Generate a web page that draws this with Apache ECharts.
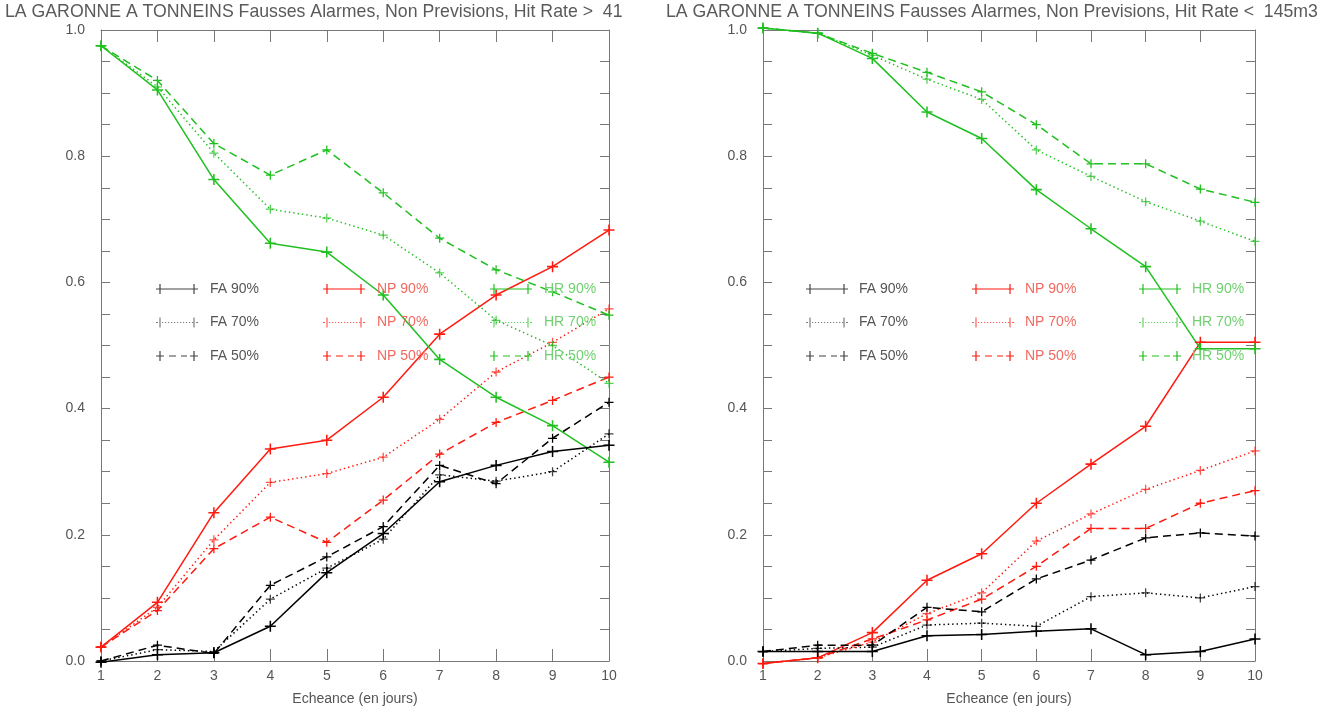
<!DOCTYPE html>
<html>
<head>
<meta charset="utf-8">
<script src="https://cdn.jsdelivr.net/npm/echarts@6/dist/echarts.min.js"></script>
<style>html,body{margin:0;padding:0;background:#fff}#c{width:1327px;height:711px}</style>
</head>
<body>
<div id="c"></div>
<script>
// ---------- data ----------
const days = [1, 2, 3, 4, 5, 6, 7, 8, 9, 10];
const yTicks = [0.0, 0.2, 0.4, 0.6, 0.8, 1.0];
const titleLeft = "LA GARONNE A TONNEINS Fausses Alarmes, Non Previsions, Hit Rate >  41";
const titleRight = "LA GARONNE A TONNEINS Fausses Alarmes, Non Previsions, Hit Rate <  145m3";
const xName = "Echeance (en jours)";
const seriesNames = ["FA 90%", "FA 70%", "FA 50%", "NP 90%", "NP 70%", "NP 50%", "HR 90%", "HR 70%", "HR 50%"];

// left panel (Hit Rate > 41)
const L_FA90 = [-0.002, 0.010, 0.013, 0.055, 0.140, 0.202, 0.284, 0.310, 0.332, 0.342];
const L_FA70 = [0.000, 0.018, 0.015, 0.098, 0.147, 0.193, 0.295, 0.285, 0.300, 0.360];
const L_FA50 = [0.000, 0.025, 0.012, 0.120, 0.165, 0.213, 0.310, 0.281, 0.353, 0.410];
const L_NP90 = [0.022, 0.093, 0.235, 0.336, 0.350, 0.418, 0.518, 0.580, 0.625, 0.683];
const L_NP70 = [0.022, 0.085, 0.192, 0.283, 0.297, 0.323, 0.383, 0.458, 0.505, 0.558];
const L_NP50 = [0.022, 0.080, 0.178, 0.228, 0.188, 0.255, 0.328, 0.378, 0.413, 0.450];
const L_HR90 = [0.975, 0.905, 0.763, 0.662, 0.648, 0.580, 0.478, 0.418, 0.373, 0.315];
const L_HR70 = [0.975, 0.910, 0.805, 0.716, 0.702, 0.675, 0.615, 0.540, 0.500, 0.440];
const L_HR50 = [0.975, 0.920, 0.820, 0.770, 0.810, 0.742, 0.670, 0.620, 0.585, 0.548];

// right panel (Hit Rate < 145m3)
const R_FA90 = [0.015, 0.015, 0.015, 0.040, 0.042, 0.047, 0.051, 0.010, 0.015, 0.035];
const R_FA70 = [0.015, 0.020, 0.022, 0.057, 0.060, 0.055, 0.102, 0.108, 0.100, 0.118];
const R_FA50 = [0.015, 0.025, 0.025, 0.085, 0.078, 0.130, 0.160, 0.195, 0.203, 0.198];
const R_NP90 = [-0.004, 0.005, 0.045, 0.128, 0.170, 0.250, 0.312, 0.372, 0.505, 0.505];
const R_NP70 = [-0.004, 0.005, 0.030, 0.075, 0.108, 0.190, 0.233, 0.272, 0.302, 0.333];
const R_NP50 = [-0.004, 0.005, 0.035, 0.065, 0.098, 0.150, 0.210, 0.210, 0.250, 0.270];
const R_HR90 = [1.003, 0.995, 0.955, 0.870, 0.828, 0.747, 0.685, 0.625, 0.495, 0.495];
const R_HR70 = [1.003, 0.995, 0.960, 0.922, 0.890, 0.810, 0.768, 0.728, 0.697, 0.665];
const R_HR50 = [1.003, 0.995, 0.963, 0.933, 0.902, 0.850, 0.788, 0.788, 0.748, 0.727];

// ---------- style ----------
const FONT = "Liberation Sans";
const colors = {FA: "#000000", NP: "#ff1a0f", HR: "#1fc01f"};
const legendText = {FA: "#555555", NP: "#f26a60", HR: "#6fd26f"};
const dashes = {"90": "solid", "70": [1.4, 3], "50": [8, 5]};
const PLUS = "path://M4.3,0H5.7V4.3H10V5.7H5.7V10H4.3V5.7H0V4.3H4.3Z";

function legendIcon(kind) {
  // 42 x 10 box: plus at both ends, line in between
  let p = "M0,0H0.01V0.01H0Z M3.4,0H4.6V10H3.4Z M37.4,0H38.6V10H37.4Z M41.99,9.99H42V10H41.99Z ";
  if (kind === "90") {
    p += "M0,4.4H42V5.6H0Z";
  } else if (kind === "70") {
    p += "M0,4.4H2V5.6H0Z M40,4.4H42V5.6H40Z ";
    for (let x = 6; x < 37; x += 3) p += "M" + x + ",4.4H" + (x + 1.2) + "V5.6H" + x + "Z ";
  } else {
    p += "M0,4.4H8V5.6H0Z M34,4.4H42V5.6H34Z M13,4.4H20V5.6H13Z M25,4.4H31V5.6H25Z";
  }
  return "path://" + p;
}

const grids = [
  {left: 101, right: 1327 - 609, top: 30, bottom: 711 - 672},
  {left: 763, right: 1327 - 1255, top: 30, bottom: 711 - 672}
];

const axisLineStyle = {color: "#777", width: 1};
const labelStyle = {color: "#555", fontFamily: FONT, fontSize: 14};

const xAxes = [], yAxes = [];
grids.forEach((g, i) => {
  xAxes.push({
    type: "value", gridIndex: i, position: "bottom", min: 1, max: 10, interval: 1,
    name: xName, nameLocation: "middle", nameGap: 31,
    nameTextStyle: {color: "#555", fontFamily: FONT, fontSize: 14},
    axisLine: {show: true, onZero: false, lineStyle: axisLineStyle},
    axisTick: {show: true, inside: true, length: 12, lineStyle: axisLineStyle},
    axisLabel: Object.assign({margin: 8, formatter: v => String(v)}, labelStyle),
    splitLine: {show: false}
  });
  xAxes.push({
    type: "value", gridIndex: i, position: "top", min: 1, max: 10, interval: 1,
    axisLine: {show: true, onZero: false, lineStyle: axisLineStyle},
    axisTick: {show: true, inside: true, length: 12, lineStyle: axisLineStyle},
    axisLabel: {show: false}, splitLine: {show: false}
  });
  yAxes.push({
    type: "value", gridIndex: i, position: "left", min: yTicks[0], max: yTicks[yTicks.length - 1], interval: 0.2,
    axisLine: {show: true, onZero: false, lineStyle: axisLineStyle},
    axisTick: {show: true, inside: true, length: 9, lineStyle: axisLineStyle},
    minorTick: {show: true, splitNumber: 4, length: 9, lineStyle: axisLineStyle},
    axisLabel: Object.assign({margin: 16, formatter: v => v.toFixed(1)}, labelStyle),
    splitLine: {show: false}
  });
  yAxes.push({
    type: "value", gridIndex: i, position: "right", min: yTicks[0], max: yTicks[yTicks.length - 1], interval: 0.2,
    axisLine: {show: true, onZero: false, lineStyle: axisLineStyle},
    axisTick: {show: true, inside: true, length: 9, lineStyle: axisLineStyle},
    minorTick: {show: true, splitNumber: 4, length: 9, lineStyle: axisLineStyle},
    axisLabel: {show: false}, splitLine: {show: false}
  });
});

const panelData = [
  {"FA 90%": L_FA90, "FA 70%": L_FA70, "FA 50%": L_FA50, "NP 90%": L_NP90, "NP 70%": L_NP70, "NP 50%": L_NP50, "HR 90%": L_HR90, "HR 70%": L_HR70, "HR 50%": L_HR50},
  {"FA 90%": R_FA90, "FA 70%": R_FA70, "FA 50%": R_FA50, "NP 90%": R_NP90, "NP 70%": R_NP70, "NP 50%": R_NP50, "HR 90%": R_HR90, "HR 70%": R_HR70, "HR 50%": R_HR50}
];

const series = [];
panelData.forEach((pd, i) => {
  seriesNames.forEach(name => {
    const kind = name.slice(0, 2), pct = name.slice(3, 5);
    const col = colors[kind];
    series.push({
      type: "line", name: name, xAxisIndex: i * 2, yAxisIndex: i * 2,
      data: days.map((d, k) => [d, pd[name][k]]),
      symbol: PLUS, symbolSize: pct === "90" ? 11 : 9, showAllSymbol: true,
      itemStyle: {color: col, opacity: pct === "70" ? 0.75 : 1},
      lineStyle: {color: col, width: 1.5, type: dashes[pct]},
      clip: false, silent: true, z: kind === "FA" ? 3 : 2
    });
  });
});

const legendPos = [
  {FA: [156, 210], NP: [323, 377], HR: [490, 544]},
  {FA: [806, 859], NP: [972, 1025], HR: [1139, 1192]}
];
const legends = [];
legendPos.forEach(lp => {
  ["FA", "NP", "HR"].forEach(kind => {
    const [ix, tx] = lp[kind];
    legends.push({
      orient: "vertical", left: ix, top: 282, padding: 0,
      itemWidth: 42, itemHeight: 10, itemGap: 19.5, selectedMode: false,
      textStyle: {color: legendText[kind], fontFamily: FONT, fontSize: 14, lineHeight: 10, padding: [0, 0, 0, tx - ix - 47]},
      data: ["90", "70", "50"].map(p => ({
        name: kind + " " + p + "%", icon: legendIcon(p),
        itemStyle: {color: kind === "FA" ? "#444" : colors[kind], opacity: p === "70" ? 0.7 : 1, borderWidth: 0},
        lineStyle: {width: 0}
      }))
    });
  });
});

const chart = echarts.init(document.getElementById("c"), null, {renderer: "canvas"});
const titleStyle = {color: "#5a5a5a", fontFamily: FONT, fontSize: 17.7, fontWeight: "normal"};
chart.setOption({
  animation: false,
  backgroundColor: "#ffffff",
  title: [
    {text: titleLeft, left: 5, top: 3, padding: 0, textStyle: titleStyle},
    {text: titleRight, left: 666, top: 3, padding: 0, textStyle: titleStyle}
  ],
  grid: grids,
  xAxis: xAxes,
  yAxis: yAxes,
  legend: legends,
  series: series
});
</script>
</body>
</html>
